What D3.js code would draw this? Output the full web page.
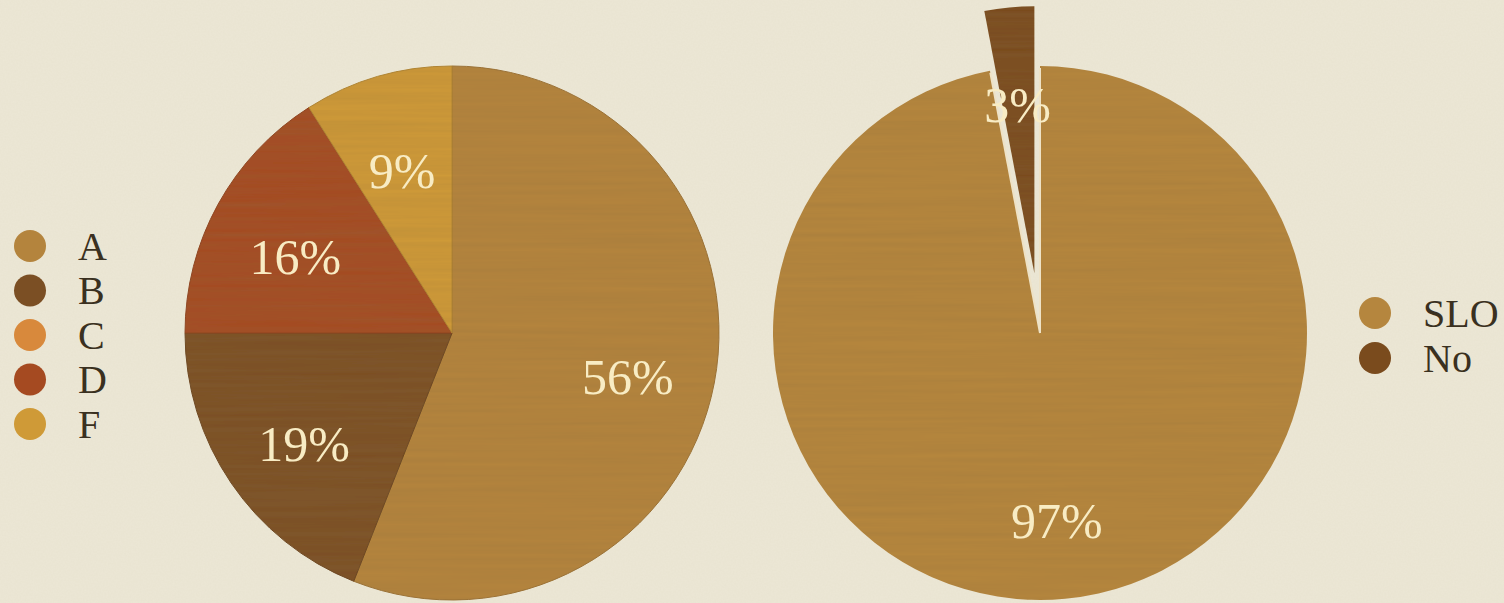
<!DOCTYPE html>
<html>
<head>
<meta charset="utf-8">
<script src="https://cdn.jsdelivr.net/npm/d3@7"></script>
<style>
html,body{margin:0;padding:0;background:#ece7d5;}
svg{display:block;}
</style>
</head>
<body>
<svg id="chart" width="1504" height="603"></svg>
<script>
// ---- data ----
const gradeCategories = ["A", "B", "C", "D", "F"];
const gradeValues = [56, 19, 0, 16, 9];
const gradeColors = ["#b4843d", "#7b4f24", "#d8893c", "#a54a21", "#cf9a37"];

const sloCategories = ["SLO", "No"];
const sloValues = [97, 3];
const sloColors = ["#b5863e", "#7a4b1d"];

// ---- layout ----
const W = 1504, H = 603;
const R = 267;
const left = {cx: 452, cy: 333};
const right = {cx: 1040, cy: 333};
const explode = 60;
const labelShift = 10;

const svg = d3.select("#chart");
const defs = svg.append("defs");

// paper texture
const paper = defs.append("filter").attr("id", "paper").attr("x", 0).attr("y", 0).attr("width", "100%").attr("height", "100%");
paper.append("feTurbulence").attr("type", "fractalNoise").attr("baseFrequency", "0.6").attr("numOctaves", 2).attr("seed", 3).attr("result", "n");
paper.append("feColorMatrix").attr("in", "n").attr("type", "matrix")
  .attr("values", "0 0 0 0 0.55  0 0 0 0 0.5  0 0 0 0 0.4  0 0 0 0.10 0").attr("result", "nc");
paper.append("feComposite").attr("in", "nc").attr("in2", "SourceGraphic").attr("operator", "over");

// wood grain texture
const wood = defs.append("filter").attr("id", "wood").attr("x", "-5%").attr("y", "-5%").attr("width", "110%").attr("height", "110%");
wood.append("feTurbulence").attr("type", "fractalNoise").attr("baseFrequency", "0.004 0.2").attr("numOctaves", 3).attr("seed", 7).attr("result", "g");
wood.append("feColorMatrix").attr("in", "g").attr("type", "matrix")
  .attr("values", "0 0 0 0 0.25  0 0 0 0 0.15  0 0 0 0 0.05  0 0 0 0.3 -0.04").attr("result", "gc");
wood.append("feComposite").attr("in", "gc").attr("in2", "SourceGraphic").attr("operator", "atop");

svg.append("rect").attr("width", W).attr("height", H).attr("fill", "#ece7d5").attr("filter", "url(#paper)");

const pie = d3.pie().sort(null).value(d => d);
const arc = d3.arc().innerRadius(0).outerRadius(R);
const labelArc = d3.arc().innerRadius(R * 0.67).outerRadius(R * 0.67);

const labelFont = "'Liberation Serif', 'DejaVu Serif', serif";
const labelSize = 50;

// ---- left pie ----
const gL = svg.append("g").attr("transform", `translate(${left.cx},${left.cy})`);
const arcsL = pie(gradeValues).map((a, i) => Object.assign(a, {i}));
const woodL = gL.append("g").attr("filter", "url(#wood)");
woodL.selectAll("path").data(arcsL.filter(d => d.value > 0)).join("path")
  .attr("d", arc)
  .attr("fill", d => gradeColors[d.i])
  .attr("stroke", d => d3.color(gradeColors[d.i]).darker(0.4))
  .attr("stroke-width", 1);
gL.selectAll("text").data(arcsL.filter(d => d.value > 0)).join("text")
  .attr("transform", d => { const c = labelArc.centroid(d); return `translate(${c[0]},${c[1] + labelShift})`; })
  .attr("text-anchor", "middle")
  .attr("dominant-baseline", "central")
  .attr("font-family", labelFont)
  .attr("font-size", labelSize)
  .attr("fill", "#f8ecc4")
  .text(d => d.value + "%");

// ---- right pie ----
const gR = svg.append("g").attr("transform", `translate(${right.cx},${right.cy})`);
const arcsR = pie(sloValues).map((a, i) => Object.assign(a, {i}));
const offset = d => {
  if (d.i === 0) return [0, 0];
  const m = (d.startAngle + d.endAngle) / 2;
  return [Math.sin(m) * explode, -Math.cos(m) * explode];
};
const woodR = gR.append("g").attr("filter", "url(#wood)");
woodR.selectAll("path").data(arcsR).join("path")
  .attr("transform", d => `translate(${offset(d)})`)
  .attr("d", arc)
  .attr("fill", d => sloColors[d.i]);
// light radial edges of the main (SLO) slice, drawn over the pulled-out slice
const slo = arcsR[0];
gR.selectAll("line.edge").data([slo.startAngle, slo.endAngle]).join("line")
  .attr("class", "edge")
  .attr("x1", 0).attr("y1", 0)
  .attr("x2", a => Math.sin(a) * (R - 2))
  .attr("y2", a => -Math.cos(a) * (R - 2))
  .attr("stroke", "#eee2c6")
  .attr("stroke-width", 2);
gR.selectAll("text").data(arcsR).join("text")
  .attr("transform", d => {
    const c = labelArc.centroid(d), o = offset(d);
    return `translate(${c[0] + o[0]},${c[1] + o[1] + labelShift})`;
  })
  .attr("text-anchor", "middle")
  .attr("dominant-baseline", "central")
  .attr("font-family", labelFont)
  .attr("font-size", labelSize)
  .attr("fill", "#f8ecc4")
  .text(d => d.value + "%");

// ---- legends ----
const legendFont = labelFont;
const legL = svg.append("g").attr("transform", "translate(30,246)");
const rowL = legL.selectAll("g").data(gradeCategories).join("g")
  .attr("transform", (d, i) => `translate(0,${i * 44.5})`);
rowL.append("circle").attr("r", 16).attr("fill", (d, i) => gradeColors[i]);
rowL.append("text").attr("x", 48).attr("dominant-baseline", "central")
  .attr("font-family", legendFont).attr("font-size", 40).attr("fill", "#3a3020")
  .text(d => d);

const legR = svg.append("g").attr("transform", "translate(1375,313)");
const rowR = legR.selectAll("g").data(sloCategories).join("g")
  .attr("transform", (d, i) => `translate(0,${i * 45})`);
rowR.append("circle").attr("r", 16).attr("fill", (d, i) => sloColors[i]);
rowR.append("text").attr("x", 48).attr("dominant-baseline", "central")
  .attr("font-family", legendFont).attr("font-size", 40).attr("fill", "#3a3020")
  .text(d => d);
</script>
</body>
</html>
